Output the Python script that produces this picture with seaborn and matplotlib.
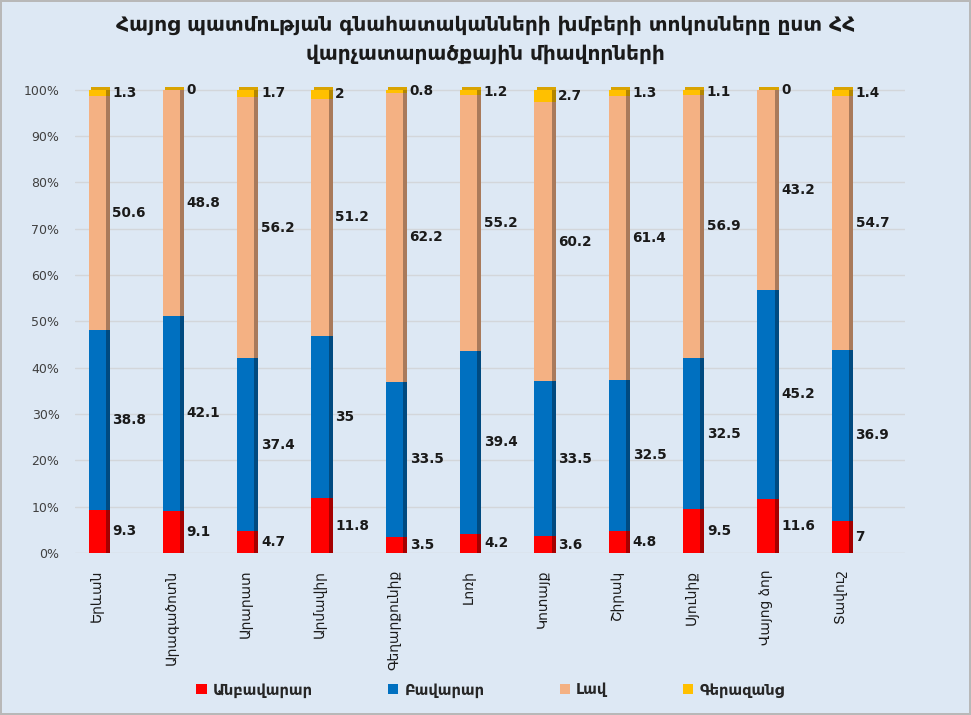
import numpy as np
import pandas as pd
import matplotlib
matplotlib.use("Agg")
import matplotlib.pyplot as plt
from matplotlib.ticker import FuncFormatter
from matplotlib.patches import Patch
import seaborn as sns

regions = ["Երևան", "Արագածոտն", "Արարատ", "Արմավիր", "Գեղարքունիք", "Լոռի",
           "Կոտայք", "Շիրակ", "Սյունիք", "Վայոց ձոր", "Տավուշ"]
series_names = ["Անբավարար", "Բավարար", "Լավ", "Գերազանց"]
anbavarar = [9.3, 9.1, 4.7, 11.8, 3.5, 4.2, 3.6, 4.8, 9.5, 11.6, 7]
bavarar = [38.8, 42.1, 37.4, 35, 33.5, 39.4, 33.5, 32.5, 32.5, 45.2, 36.9]
lav = [50.6, 48.8, 56.2, 51.2, 62.2, 55.2, 60.2, 61.4, 56.9, 43.2, 54.7]
gerazanc = [1.3, 0, 1.7, 2, 0.8, 1.2, 2.7, 1.3, 1.1, 0, 1.4]
y_ticks = [0, 10, 20, 30, 40, 50, 60, 70, 80, 90, 100]
title = "Հայոց պատմության գնահատականների խմբերի տոկոսները ըստ ՀՀ\nվարչատարածքային միավորների"

front_colors = ["#ff0000", "#0070c0", "#f4b183", "#ffc000"]
side_colors = ["#a50000", "#004a80", "#a97a5b", "#b38600"]
bg = "#dde8f4"

sns.set_theme(style="white")
plt.rcParams["font.family"] = ["DejaVu Sans"]

fig = plt.figure(figsize=(9.71, 7.15), dpi=100, facecolor=bg)
fig.patch.set_edgecolor("#b8b8b8")
fig.patch.set_linewidth(1.5)
ax = fig.add_axes([0.077, 0.2266, 0.855, 0.6514])
ax.set_facecolor(bg)

data = [anbavarar, bavarar, lav, gerazanc]
n = len(regions)
x = np.arange(n)
bw = 0.23
side_w = 0.055
bottom = np.zeros(n)

for vals, name, fc, sc in zip(data, series_names, front_colors, side_colors):
    vals = np.array(vals, dtype=float)
    # side face (3D look)
    ax.bar(x + bw / 2, vals, width=side_w, bottom=bottom, align="edge",
           color=sc, linewidth=0, zorder=2)
    df = pd.DataFrame({"region": regions, "value": vals})
    sns.barplot(data=df, x="region", y="value", ax=ax, color=fc, width=bw,
                bottom=bottom, linewidth=0, saturation=1, zorder=3)
    for i in range(n):
        ax.text(i + bw / 2 + 0.09, bottom[i] + vals[i] / 2, f"{vals[i]:g}",
                ha="left", va="center", fontsize=9.8, fontweight="bold",
                color="#1a1a1a", zorder=5)
    bottom = bottom + vals

# top cap of the bars (3D look)
ax.bar(x - bw / 2 + side_w * 0.5, [0.7] * n, width=bw + side_w * 0.5, bottom=bottom,
       align="edge", color="#d9a300", linewidth=0, zorder=2)

if ax.get_legend() is not None:
    ax.get_legend().remove()

ax.set_xlim(-0.3, 10.87)
ax.set_ylim(0, 100.5)
ax.set_yticks(y_ticks)
ax.yaxis.set_major_formatter(FuncFormatter(lambda v, p: f"{int(v)}%"))
ax.yaxis.grid(True, color="#d3d6da", linewidth=1.0, zorder=0)
ax.set_axisbelow(True)
for s in ax.spines.values():
    s.set_visible(False)
ax.tick_params(axis="y", labelsize=9, colors="#404040", length=0, pad=11)
ax.tick_params(axis="x", labelsize=10, colors="#1a1a1a", length=0, pad=12)
ax.set_xticks(x)
ax.set_xticklabels(regions, rotation=90, va="top", ha="center")
ax.set_xlabel("")
ax.set_ylabel("")

fig.suptitle(title, x=0.5, y=0.978, fontsize=14.5, fontweight="bold", color="#1a1a1a",
             linespacing=1.55)

handles = [Patch(facecolor=c, edgecolor="none") for c in front_colors]
fig.legend(handles, series_names, loc="center", bbox_to_anchor=(0.505, 0.035), ncol=4,
           frameon=False, handlelength=0.7, handleheight=0.7,
           handletextpad=0.4, columnspacing=5.2, prop={"weight": "bold", "size": 10.5})

fig.savefig("out.png", dpi=100, facecolor=bg, edgecolor=fig.patch.get_edgecolor())
